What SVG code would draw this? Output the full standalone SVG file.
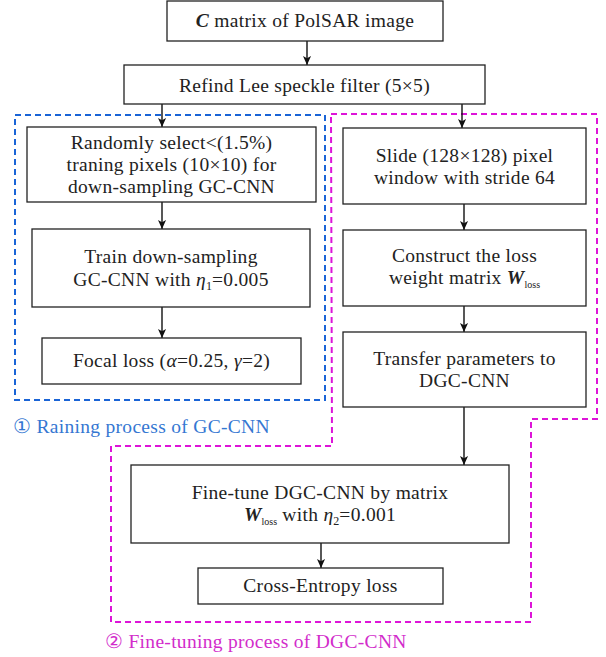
<svg xmlns="http://www.w3.org/2000/svg" width="606" height="657" viewBox="0 0 606 657">
<style>
.box{fill:#fff;stroke:#222;stroke-width:1.3}
.t{font-family:"Liberation Serif","Times New Roman",serif;font-size:19.5px;letter-spacing:0.3px;fill:#222;text-anchor:middle}
.bi{font-weight:bold;font-style:italic}
.it{font-style:italic}
.sub{font-size:10px;letter-spacing:0}
.sub2{font-size:12px;letter-spacing:0}
.con{stroke:#111;stroke-width:1.4;fill:none;marker-end:url(#ah)}
.dashb{fill:none;stroke:#1a64d6;stroke-width:2;stroke-dasharray:6,4}
.dashm{fill:none;stroke:#dd14d8;stroke-width:2;stroke-dasharray:6,4}
.lab{font-family:"Liberation Serif","Times New Roman",serif;font-size:19.5px;letter-spacing:0.3px}
</style>
<defs>
<marker id="ah" viewBox="0 0 10 10" refX="10" refY="5" markerWidth="9" markerHeight="9" markerUnits="userSpaceOnUse" orient="auto">
<path d="M0,0.5 L10,5 L0,9.5 L2.5,5 z" fill="#111"/>
</marker>
</defs>

<g id="regions">
<rect class="dashb" x="15" y="115" width="310" height="285"/>
<path class="dashm" d="M331,114 H597 V419 H531 V622 H111 V446 H332 Z"/>
<text class="lab" x="13" y="433" fill="#3577d2">① Raining process of GC-CNN</text>
<text class="lab" x="105" y="648" fill="#d22ccb">② Fine-tuning process of DGC-CNN</text>
</g>

<g id="connectors">
<line class="con" x1="307" y1="41" x2="307" y2="65"/>
<line class="con" x1="162" y1="104" x2="162" y2="127"/>
<line class="con" x1="462" y1="104" x2="462" y2="128"/>
<line class="con" x1="162" y1="202" x2="162" y2="229"/>
<line class="con" x1="162" y1="307" x2="162" y2="338"/>
<line class="con" x1="464" y1="204" x2="464" y2="230"/>
<line class="con" x1="464" y1="306" x2="464" y2="332"/>
<line class="con" x1="464" y1="407" x2="464" y2="465"/>
<line class="con" x1="321" y1="543" x2="321" y2="568"/>
</g>

<g id="n1">
<rect class="box" x="167" y="1" width="276" height="40"/>
<text class="t" x="305" y="27"><tspan class="bi">C</tspan> matrix of PolSAR image</text>
</g>
<g id="n2">
<rect class="box" x="124" y="65" width="361" height="39"/>
<text class="t" x="304.5" y="92">Refind Lee speckle filter (5×5)</text>
</g>
<g id="n3">
<rect class="box" x="27" y="127" width="289" height="75"/>
<text class="t" x="171.5" y="149">Randomly select&lt;(1.5%)</text>
<text class="t" x="171.5" y="171">traning pixels (10×10) for</text>
<text class="t" x="171.5" y="193">down-sampling GC-CNN</text>
</g>
<g id="n4">
<rect class="box" x="32" y="229" width="278" height="78"/>
<text class="t" x="171" y="263">Train down-sampling</text>
<text class="t" x="171" y="286">GC-CNN with <tspan class="it">η</tspan><tspan class="sub2" dy="4">1</tspan><tspan dy="-4">=0.005</tspan></text>
</g>
<g id="n5">
<rect class="box" x="42" y="338" width="259" height="46"/>
<text class="t" x="171.5" y="367">Focal loss (<tspan class="it">α</tspan>=0.25, <tspan class="it">γ</tspan>=2)</text>
</g>
<g id="n6">
<rect class="box" x="343" y="128" width="243" height="76"/>
<text class="t" x="464.5" y="162">Slide (128×128) pixel</text>
<text class="t" x="464.5" y="184">window with stride 64</text>
</g>
<g id="n7">
<rect class="box" x="343" y="230" width="243" height="76"/>
<text class="t" x="464.5" y="262">Construct the loss</text>
<text class="t" x="464.5" y="284">weight matrix <tspan class="bi">W</tspan><tspan class="sub" dy="4">loss</tspan></text>
</g>
<g id="n8">
<rect class="box" x="343" y="332" width="243" height="75"/>
<text class="t" x="464.5" y="365">Transfer parameters to</text>
<text class="t" x="464.5" y="387">DGC-CNN</text>
</g>
<g id="n9">
<rect class="box" x="131" y="465" width="378" height="78"/>
<text class="t" x="320" y="499">Fine-tune DGC-CNN by matrix</text>
<text class="t" x="320" y="521"><tspan class="bi">W</tspan><tspan class="sub" dy="4">loss</tspan><tspan dy="-4"> with </tspan><tspan class="it">η</tspan><tspan class="sub2" dy="4">2</tspan><tspan dy="-4">=0.001</tspan></text>
</g>
<g id="n10">
<rect class="box" x="198" y="568" width="245" height="36"/>
<text class="t" x="320.5" y="592">Cross-Entropy loss</text>
</g>
</svg>
